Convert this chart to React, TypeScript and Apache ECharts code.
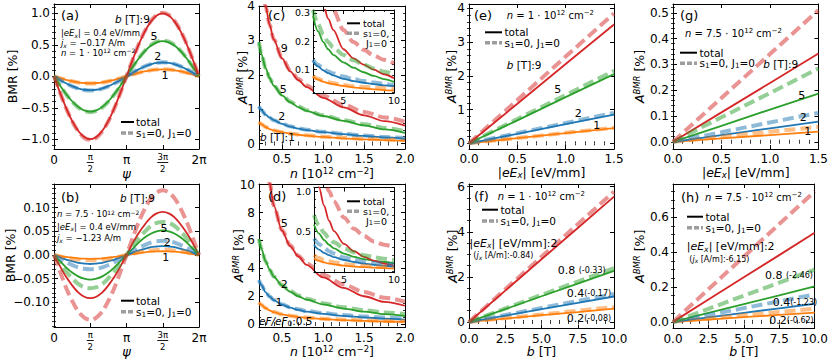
import React, { useEffect, useRef } from "react";
import * as echarts from "echarts";

const FONT = "DejaVu Sans";
const RED = "#d62728";
const GREEN = "#2ca02c";
const BLUE = "#1f77b4";
const ORANGE = "#ff7f0e";

// ---------- (a), (b): BMR vs psi ----------
const PSI = [0, 0.2618, 0.5236, 0.7854, 1.0472, 1.309, 1.5708, 1.8326, 2.0944, 2.3562, 2.618, 2.8798, 3.1416,
  3.4034, 3.6652, 3.927, 4.1888, 4.4506, 4.7124, 4.9742, 5.236, 5.4978, 5.7596, 6.0214, 6.2832];
const A_B9_TOT = [0, -0.259, -0.5, -0.707, -0.866, -0.966, -1.0, -0.966, -0.866, -0.707, -0.5, -0.259, 0,
  0.259, 0.5, 0.707, 0.866, 0.966, 1.0, 0.966, 0.866, 0.707, 0.5, 0.259, 0];
const A_B9_S0 = [0, -0.261, -0.505, -0.714, -0.875, -0.976, -1.01, -0.976, -0.875, -0.714, -0.505, -0.261, 0,
  0.261, 0.505, 0.714, 0.875, 0.976, 1.01, 0.976, 0.875, 0.714, 0.505, 0.261, 0];
const A_B5_TOT = [0, -0.145, -0.28, -0.396, -0.485, -0.541, -0.56, -0.541, -0.485, -0.396, -0.28, -0.145, 0,
  0.145, 0.28, 0.396, 0.485, 0.541, 0.56, 0.541, 0.485, 0.396, 0.28, 0.145, 0];
const A_B5_S0 = [0, -0.148, -0.285, -0.403, -0.494, -0.551, -0.57, -0.551, -0.494, -0.403, -0.285, -0.148, 0,
  0.148, 0.285, 0.403, 0.494, 0.551, 0.57, 0.551, 0.494, 0.403, 0.285, 0.148, 0];
const A_B2_TOT = [0, -0.057, -0.11, -0.156, -0.19, -0.213, -0.22, -0.213, -0.19, -0.156, -0.11, -0.057, 0,
  0.057, 0.11, 0.156, 0.19, 0.213, 0.22, 0.213, 0.19, 0.156, 0.11, 0.057, 0];
const A_B2_S0 = [0, -0.058, -0.113, -0.159, -0.195, -0.217, -0.225, -0.217, -0.195, -0.159, -0.113, -0.058, 0,
  0.058, 0.113, 0.159, 0.195, 0.217, 0.225, 0.217, 0.195, 0.159, 0.113, 0.058, 0];
const A_B1_TOT = [0, -0.028, -0.055, -0.078, -0.095, -0.106, -0.11, -0.106, -0.095, -0.078, -0.055, -0.028, 0,
  0.028, 0.055, 0.078, 0.095, 0.106, 0.11, 0.106, 0.095, 0.078, 0.055, 0.028, 0];
const A_B1_S0 = [0, -0.029, -0.056, -0.079, -0.097, -0.108, -0.112, -0.108, -0.097, -0.079, -0.056, -0.029, 0,
  0.029, 0.056, 0.079, 0.097, 0.108, 0.112, 0.108, 0.097, 0.079, 0.056, 0.029, 0];

const B_B9_TOT = [0, -0.024, -0.046, -0.064, -0.079, -0.088, -0.091, -0.088, -0.079, -0.064, -0.046, -0.024, 0,
  0.024, 0.046, 0.064, 0.079, 0.088, 0.091, 0.088, 0.079, 0.064, 0.046, 0.024, 0];
const B_B9_S0 = [0, -0.035, -0.069, -0.097, -0.119, -0.132, -0.137, -0.132, -0.119, -0.097, -0.069, -0.035, 0,
  0.035, 0.069, 0.097, 0.119, 0.132, 0.137, 0.132, 0.119, 0.097, 0.069, 0.035, 0];
const B_B5_TOT = [0, -0.013, -0.026, -0.037, -0.045, -0.05, -0.052, -0.05, -0.045, -0.037, -0.026, -0.013, 0,
  0.013, 0.026, 0.037, 0.045, 0.05, 0.052, 0.05, 0.045, 0.037, 0.026, 0.013, 0];
const B_B5_S0 = [0, -0.018, -0.035, -0.049, -0.061, -0.068, -0.07, -0.068, -0.061, -0.049, -0.035, -0.018, 0,
  0.018, 0.035, 0.049, 0.061, 0.068, 0.07, 0.068, 0.061, 0.049, 0.035, 0.018, 0];
const B_B2_TOT = [0, -0.005, -0.0095, -0.013, -0.0165, -0.018, -0.019, -0.018, -0.0165, -0.013, -0.0095, -0.005, 0,
  0.005, 0.0095, 0.013, 0.0165, 0.018, 0.019, 0.018, 0.0165, 0.013, 0.0095, 0.005, 0];
const B_B2_S0 = [0, -0.008, -0.015, -0.021, -0.026, -0.029, -0.03, -0.029, -0.026, -0.021, -0.015, -0.008, 0,
  0.008, 0.015, 0.021, 0.026, 0.029, 0.03, 0.029, 0.026, 0.021, 0.015, 0.008, 0];
const B_B1_TOT = [0, -0.002, -0.004, -0.0057, -0.007, -0.0077, -0.008, -0.0077, -0.007, -0.0057, -0.004, -0.002, 0,
  0.002, 0.004, 0.0057, 0.007, 0.0077, 0.008, 0.0077, 0.007, 0.0057, 0.004, 0.002, 0];
const B_B1_S0 = [0, -0.0028, -0.0055, -0.0078, -0.0095, -0.0106, -0.011, -0.0106, -0.0095, -0.0078, -0.0055, -0.0028, 0,
  0.0028, 0.0055, 0.0078, 0.0095, 0.0106, 0.011, 0.0106, 0.0095, 0.0078, 0.0055, 0.0028, 0];

// ---------- (c), (d): A_BMR vs n ----------
const N_MAIN = [0.22, 0.25, 0.3, 0.35, 0.4, 0.5, 0.6, 0.7, 0.8, 1.0, 1.25, 1.5, 1.75, 2.0];
const C_B9_TOT = [5.5, 4.85, 4.0, 3.45, 3.02, 2.48, 2.1, 1.84, 1.64, 1.33, 1.05, 0.82, 0.65, 0.52];
const C_B9_S0 = [5.5, 4.85, 4.0, 3.45, 3.03, 2.5, 2.13, 1.88, 1.69, 1.39, 1.13, 0.92, 0.76, 0.63];
const C_B5_TOT = [2.95, 2.6, 2.2, 1.9, 1.68, 1.4, 1.2, 1.06, 0.95, 0.8, 0.66, 0.53, 0.41, 0.31];
const C_B5_S0 = [2.95, 2.6, 2.2, 1.9, 1.69, 1.42, 1.22, 1.08, 0.97, 0.82, 0.68, 0.56, 0.45, 0.36];
const C_B2_TOT = [1.08, 0.97, 0.84, 0.75, 0.68, 0.57, 0.49, 0.43, 0.39, 0.33, 0.27, 0.22, 0.18, 0.14];
const C_B2_S0 = [1.08, 0.97, 0.84, 0.75, 0.68, 0.58, 0.5, 0.44, 0.4, 0.34, 0.28, 0.23, 0.19, 0.16];
const C_B1_TOT = [0.62, 0.56, 0.48, 0.42, 0.38, 0.33, 0.29, 0.25, 0.23, 0.19, 0.15, 0.12, 0.1, 0.08];
const C_B1_S0 = [0.62, 0.56, 0.48, 0.42, 0.38, 0.33, 0.29, 0.26, 0.24, 0.2, 0.17, 0.14, 0.12, 0.1];

const N_INSET = [2, 2.5, 3, 3.5, 4, 5, 6, 7, 8, 9, 10];
const CI_B9_TOT = [0.52, 0.41, 0.33, 0.28, 0.24, 0.172, 0.14, 0.118, 0.1, 0.084, 0.07];
const CI_B9_S0 = [0.63, 0.5, 0.42, 0.355, 0.31, 0.24, 0.197, 0.17, 0.15, 0.135, 0.122];
const CI_B5_TOT = [0.29, 0.235, 0.198, 0.172, 0.152, 0.126, 0.107, 0.091, 0.078, 0.067, 0.057];
const CI_B5_S0 = [0.31, 0.26, 0.225, 0.197, 0.178, 0.152, 0.133, 0.118, 0.104, 0.093, 0.084];
const CI_B2_TOT = [0.13, 0.112, 0.098, 0.088, 0.08, 0.068, 0.06, 0.054, 0.049, 0.045, 0.042];
const CI_B2_S0 = [0.135, 0.117, 0.104, 0.094, 0.087, 0.076, 0.067, 0.06, 0.055, 0.05, 0.046];
const CI_B1_TOT = [0.075, 0.065, 0.058, 0.053, 0.049, 0.043, 0.038, 0.034, 0.031, 0.028, 0.026];
const CI_B1_S0 = [0.078, 0.068, 0.061, 0.056, 0.052, 0.046, 0.042, 0.039, 0.037, 0.035, 0.034];

const D_E5_TOT = [16, 14.2, 11.8, 10.1, 8.5, 6.7, 5.6, 4.85, 4.25, 3.35, 2.6, 2.0, 1.6, 1.32];
const D_E5_S0 = [16, 14.2, 11.8, 10.1, 8.5, 6.75, 5.65, 4.9, 4.35, 3.55, 2.85, 2.3, 1.9, 1.62];
const D_E2_TOT = [6.1, 5.4, 4.5, 3.9, 3.4, 2.78, 2.33, 2.0, 1.76, 1.42, 1.12, 0.9, 0.72, 0.58];
const D_E2_S0 = [6.1, 5.4, 4.5, 3.9, 3.42, 2.8, 2.37, 2.06, 1.83, 1.5, 1.21, 1.0, 0.84, 0.72];
const D_E1_TOT = [3.15, 2.8, 2.3, 1.97, 1.72, 1.4, 1.18, 1.02, 0.9, 0.74, 0.59, 0.48, 0.4, 0.33];
const D_E1_S0 = [3.15, 2.8, 2.3, 1.98, 1.74, 1.42, 1.21, 1.06, 0.94, 0.79, 0.65, 0.54, 0.47, 0.41];
const D_E05_TOT = [1.55, 1.38, 1.15, 0.98, 0.86, 0.7, 0.59, 0.51, 0.45, 0.37, 0.29, 0.24, 0.19, 0.16];
const D_E05_S0 = [1.55, 1.38, 1.15, 0.99, 0.87, 0.71, 0.61, 0.53, 0.47, 0.39, 0.32, 0.27, 0.23, 0.2];

const DI_E5_TOT = [1.32, 1.05, 0.82, 0.63, 0.5, 0.34, 0.25, 0.18, 0.13, 0.095, 0.07];
const DI_E5_S0 = [1.62, 1.38, 1.17, 1.0, 0.87, 0.67, 0.53, 0.44, 0.37, 0.33, 0.3];
const DI_E2_TOT = [0.58, 0.47, 0.39, 0.33, 0.285, 0.22, 0.18, 0.15, 0.13, 0.115, 0.1];
const DI_E2_S0 = [0.7, 0.57, 0.48, 0.41, 0.36, 0.285, 0.235, 0.2, 0.175, 0.155, 0.14];
const DI_E1_TOT = [0.33, 0.27, 0.23, 0.2, 0.175, 0.14, 0.115, 0.095, 0.08, 0.068, 0.058];
const DI_E1_S0 = [0.41, 0.34, 0.29, 0.25, 0.22, 0.172, 0.14, 0.118, 0.102, 0.09, 0.082];
const DI_E05_TOT = [0.16, 0.13, 0.11, 0.095, 0.085, 0.07, 0.058, 0.05, 0.044, 0.039, 0.035];
const DI_E05_S0 = [0.2, 0.165, 0.14, 0.123, 0.108, 0.089, 0.076, 0.067, 0.06, 0.054, 0.048];

// ---------- (e), (g): A_BMR vs |eEx| ----------
const EEX = [0, 0.5, 1.0, 1.5];
const E_B9_TOT = [0, 1.17, 2.35, 3.52];
const E_B9_S0 = [0, 1.28, 2.57, 3.85];
const E_B5_TOT = [0, 0.68, 1.37, 2.05];
const E_B5_S0 = [0, 0.72, 1.43, 2.15];
const E_B2_TOT = [0, 0.28, 0.57, 0.85];
const E_B2_S0 = [0, 0.3, 0.6, 0.9];
const E_B1_TOT = [0, 0.15, 0.3, 0.45];
const E_B1_S0 = [0, 0.155, 0.31, 0.46];

const G_B9_TOT = [0, 0.114, 0.228, 0.342];
const G_B9_S0 = [0, 0.17, 0.34, 0.51];
const G_B5_TOT = [0, 0.062, 0.125, 0.187];
const G_B5_S0 = [0, 0.095, 0.189, 0.284];
const G_B2_TOT = [0, 0.026, 0.052, 0.078];
const G_B2_S0 = [0, 0.037, 0.075, 0.112];
const G_B1_TOT = [0, 0.013, 0.026, 0.039];
const G_B1_S0 = [0, 0.019, 0.039, 0.058];

// ---------- (f), (h): A_BMR vs b ----------
const BFIELD = [0, 2.5, 5, 7.5, 10];
const F_E2_TOT = [0, 1.39, 2.78, 4.17, 5.56];
const F_E2_S0 = [0, 1.45, 2.89, 4.34, 5.78];
const F_E08_TOT = [0, 0.57, 1.14, 1.7, 2.27];
const F_E08_S0 = [0, 0.6, 1.2, 1.79, 2.39];
const F_E04_TOT = [0, 0.28, 0.57, 0.85, 1.13];
const F_E04_S0 = [0, 0.31, 0.62, 0.93, 1.24];
const F_E02_TOT = [0, 0.15, 0.3, 0.44, 0.59];
const F_E02_S0 = [0, 0.17, 0.33, 0.5, 0.66];

const H_E2_TOT = [0, 0.128, 0.256, 0.383, 0.511];
const H_E2_S0 = [0, 0.187, 0.374, 0.561, 0.748];
const H_E08_TOT = [0, 0.051, 0.102, 0.152, 0.203];
const H_E08_S0 = [0, 0.075, 0.15, 0.225, 0.3];
const H_E04_TOT = [0, 0.026, 0.052, 0.078, 0.104];
const H_E04_S0 = [0, 0.039, 0.079, 0.118, 0.157];
const H_E02_TOT = [0, 0.013, 0.027, 0.04, 0.053];
const H_E02_S0 = [0, 0.019, 0.038, 0.057, 0.076];

// ---------- ticks ----------
const PSI_TICKS = [0, 1.5708, 3.1416, 4.7124, 6.2832];
const A_YTICKS = [-1, -0.5, 0, 0.5, 1];
const B_YTICKS = [-0.1, -0.05, 0, 0.05, 0.1];
const N_TICKS = [0.5, 1.0, 1.5, 2.0];
const C_YTICKS = [0, 1, 2, 3, 4];
const D_YTICKS = [0, 2, 4, 6, 8, 10];
const EEX_TICKS = [0, 0.5, 1.0, 1.5];
const E_YTICKS = [0, 1, 2, 3, 4];
const B_TICKS = [0, 2.5, 5, 7.5, 10];
const F_YTICKS = [0, 2, 4, 6];
const G_YTICKS = [0, 0.1, 0.2, 0.3, 0.4, 0.5];
const H_YTICKS = [0, 0.2, 0.4, 0.6];
const IN_XTICKS = [5, 10];
const CI_YTICKS = [0.1, 0.2, 0.3];
const DI_YTICKS = [0.5, 1.0];

function steps(a: number, b: number, s: number): number[] {
  const out: number[] = [];
  const n = Math.round((b - a) / s);
  for (let i = 0; i <= n; i++) out.push(+(a + i * s).toFixed(4));
  return out;
}

const fmt = (d: number) => (v: number) => (v < -1e-9 ? "\u2212" : "") + Math.abs(v).toFixed(d);

const psiFmt = (v: number) => {
  const k = Math.round(v / (Math.PI / 2));
  if (k === 0) return "{m|0}";
  if (k === 1) return "{n|\u03c0}\n{bar| }\n{n|2}";
  if (k === 2) return "{m|\u03c0}";
  if (k === 3) return "{n|3\u03c0}\n{bar2| }\n{n|2}";
  return "{m|2\u03c0}";
};
const PSI_RICH = {
  m: { fontSize: 12, lineHeight: 12, padding: [4.5, 0, 0, 0], fontFamily: FONT, color: "#000" },
  n: { fontSize: 8.5, lineHeight: 9, fontFamily: FONT, color: "#000" },
  bar: { fontSize: 1, width: 7, height: 0.9, lineHeight: 3, backgroundColor: "#000", color: "#000" },
  bar2: { fontSize: 1, width: 11, height: 0.9, lineHeight: 3, backgroundColor: "#000", color: "#000" },
};

const NAME_RICH = {
  i: { fontStyle: "italic", fontSize: 12.5, lineHeight: 14, fontFamily: FONT, color: "#000" },
  p: { fontStyle: "italic", fontSize: 13, lineHeight: 10, fontFamily: FONT, color: "#000" },
  isup: { fontStyle: "italic", fontSize: 8.5, lineHeight: 8, verticalAlign: "top", fontFamily: FONT, color: "#000" },
  sup: { fontSize: 8.5, lineHeight: 8, verticalAlign: "top", fontFamily: FONT, color: "#000" },
  isub: { fontStyle: "italic", fontSize: 8.5, lineHeight: 8, verticalAlign: "bottom", fontFamily: FONT, color: "#000" },
};

type Ax = {
  min: number; max: number; ticks: number[]; minor: number[];
  fmt: any; fs: number; rich?: any; margin?: number;
  name?: string; gap?: number;
};

function buildAxes(gi: number, ax: Ax, dim: "x" | "y", z: number) {
  const base: any = { type: "value", gridIndex: gi, min: ax.min, max: ax.max, splitLine: { show: false }, z, silent: true };
  const line = { show: true, onZero: false, lineStyle: { color: "#000", width: 1 } };
  const major = { show: true, inside: true, length: 4, customValues: ax.ticks, lineStyle: { color: "#000", width: 1 } };
  const minorT = ax.minor.length
    ? { show: true, inside: true, length: 2, customValues: ax.minor, lineStyle: { color: "#000", width: 0.8 } }
    : { show: false };
  const p1 = dim === "x" ? "bottom" : "left";
  const p2 = dim === "x" ? "top" : "right";
  return [
    {
      ...base, position: p1, axisLine: line, axisTick: major,
      axisLabel: {
        show: true, customValues: ax.ticks, formatter: ax.fmt, fontSize: ax.fs, lineHeight: ax.fs, fontFamily: FONT,
        color: "#000", margin: ax.margin ?? 4, rich: ax.rich,
      },
      name: ax.name, nameLocation: "middle", nameGap: ax.gap, nameMoveOverlap: false,
      nameTextStyle: { fontSize: 12.5, lineHeight: 14, fontFamily: FONT, color: "#000", verticalAlign: "middle", align: "center", rich: NAME_RICH },
    },
    { ...base, position: p2, axisLine: line, axisTick: major, axisLabel: { show: false } },
    { ...base, position: p1, axisLine: { show: false }, axisTick: minorT, axisLabel: { show: false } },
    { ...base, position: p2, axisLine: { show: false }, axisTick: minorT, axisLabel: { show: false } },
  ];
}

const GRIDS = [
  { left: 54, top: 4, width: 145, height: 145 },
  { left: 54, top: 184, width: 145, height: 146 },
  { left: 259, top: 4, width: 146, height: 145 },
  { left: 259, top: 184, width: 146, height: 146 },
  { left: 469, top: 4, width: 145, height: 145 },
  { left: 469, top: 184, width: 145, height: 146 },
  { left: 673, top: 4, width: 146, height: 145 },
  { left: 673, top: 184, width: 146, height: 146 },
  { left: 313, top: 10, width: 81, height: 83 },
  { left: 314, top: 187.5, width: 80, height: 84.5 },
];

const Y_BMR = "BMR [%]";
const Y_A = "{i|A}{isup|BMR} [%]";
const X_PSI = "{p|\u03c8}";
const X_N = "{i|n} [10{sup|12} cm{sup|\u22122}]";
const X_E = "|{i|eE}{isub|x}| [eV/mm]";
const X_B = "{i|b} [T]";

const PANEL_AXES: { x: Ax; y: Ax }[] = [
  {
    x: { min: 0, max: 6.2832, ticks: PSI_TICKS, minor: [], fmt: psiFmt, fs: 12, rich: PSI_RICH, margin: 3, name: X_PSI, gap: 24.5 },
    y: { min: -1.155, max: 1.15, ticks: A_YTICKS, minor: steps(-1.1, 1.1, 0.1), fmt: fmt(1), fs: 12, name: Y_BMR, gap: 42 },
  },
  {
    x: { min: 0, max: 6.2832, ticks: PSI_TICKS, minor: [], fmt: psiFmt, fs: 12, rich: PSI_RICH, margin: 3, name: X_PSI, gap: 24.5 },
    y: { min: -0.152, max: 0.15, ticks: B_YTICKS, minor: steps(-0.15, 0.15, 0.01), fmt: fmt(2), fs: 12, name: Y_BMR, gap: 44 },
  },
  {
    x: { min: 0.22, max: 2.0, ticks: N_TICKS, minor: steps(0.3, 2.0, 0.1), fmt: fmt(1), fs: 12, name: X_N, gap: 24 },
    y: { min: -0.16, max: 4.0, ticks: C_YTICKS, minor: steps(0, 4, 0.2), fmt: fmt(0), fs: 12, name: Y_A, gap: 17 },
  },
  {
    x: { min: 0.22, max: 2.0, ticks: N_TICKS, minor: steps(0.3, 2.0, 0.1), fmt: fmt(1), fs: 12, name: X_N, gap: 23.5 },
    y: { min: -0.24, max: 10.05, ticks: D_YTICKS, minor: steps(0, 10, 0.5), fmt: fmt(0), fs: 12, name: Y_A, gap: 21 },
  },
  {
    x: { min: 0, max: 1.5, ticks: EEX_TICKS, minor: steps(0, 1.5, 0.1), fmt: fmt(1), fs: 12, name: X_E, gap: 23 },
    y: { min: -0.17, max: 4.13, ticks: E_YTICKS, minor: steps(0, 4, 0.2), fmt: fmt(0), fs: 12, name: Y_A, gap: 18 },
  },
  {
    x: { min: 0, max: 10, ticks: B_TICKS, minor: steps(0, 10, 0.625), fmt: fmt(1), fs: 12, name: X_B, gap: 22.5 },
    y: { min: -0.29, max: 6.12, ticks: F_YTICKS, minor: steps(0, 6, 0.5), fmt: fmt(0), fs: 12, name: Y_A, gap: 17 },
  },
  {
    x: { min: 0, max: 1.5, ticks: EEX_TICKS, minor: steps(0, 1.5, 0.1), fmt: fmt(1), fs: 12, name: X_E, gap: 23 },
    y: { min: -0.028, max: 0.534, ticks: G_YTICKS, minor: steps(0, 0.52, 0.02), fmt: fmt(1), fs: 12, name: Y_A, gap: 34 },
  },
  {
    x: { min: 0, max: 10, ticks: B_TICKS, minor: steps(0, 10, 0.625), fmt: fmt(1), fs: 12, name: X_B, gap: 22.5 },
    y: { min: -0.038, max: 0.791, ticks: H_YTICKS, minor: steps(0, 0.78, 0.05), fmt: fmt(1), fs: 12, name: Y_A, gap: 34 },
  },
  {
    x: { min: 2, max: 10, ticks: IN_XTICKS, minor: steps(2, 10, 1), fmt: fmt(0), fs: 9.5, margin: 3 },
    y: { min: 0.018, max: 0.31, ticks: CI_YTICKS, minor: steps(0.02, 0.3, 0.02), fmt: fmt(1), fs: 9.5, margin: 3 },
  },
  {
    x: { min: 2, max: 10, ticks: IN_XTICKS, minor: steps(2, 10, 1), fmt: fmt(0), fs: 9.5, margin: 3 },
    y: { min: -0.01, max: 1.045, ticks: DI_YTICKS, minor: steps(0, 1.0, 0.1), fmt: fmt(1), fs: 9.5, margin: 3 },
  },
];

function pair(gi: number, xs: number[], tot: number[], s0: number[], color: string, z: number, smooth: number, mono = true) {
  const mk = (ys: number[], dashed: boolean) => ({
    type: "line",
    xAxisIndex: gi * 4,
    yAxisIndex: gi * 4,
    data: xs.map((x, i) => [x, ys[i]]),
    symbol: "none",
    showSymbol: false,
    smooth,
    smoothMonotone: mono ? "x" : undefined,
    clip: true,
    silent: true,
    z: dashed ? z + 1 : z,
    lineStyle: dashed
      ? { color, width: 4, type: [11, 5], opacity: 0.5, cap: "butt" }
      : { color, width: 1.8 },
  });
  return [mk(tot, false), mk(s0, true)];
}

const TXT_RICH = (fs: number) => ({
  i: { fontStyle: "italic", fontSize: fs, lineHeight: fs * 1.15, fontFamily: FONT, fill: "#000" },
  sup: { fontSize: fs * 0.7, lineHeight: fs * 0.5, verticalAlign: "top", fontFamily: FONT, fill: "#000" },
  sub: { fontSize: fs * 0.7, lineHeight: fs * 0.5, verticalAlign: "bottom", fontFamily: FONT, fill: "#000" },
  isub: { fontStyle: "italic", fontSize: fs * 0.7, lineHeight: fs * 0.5, verticalAlign: "bottom", fontFamily: FONT, fill: "#000" },
  s: { fontSize: 8, lineHeight: fs * 1.15, fontFamily: FONT, fill: "#000" },
  si: { fontStyle: "italic", fontSize: 8, lineHeight: fs * 1.15, fontFamily: FONT, fill: "#000" },
  ssub: { fontStyle: "italic", fontSize: 6, lineHeight: 4, verticalAlign: "bottom", fontFamily: FONT, fill: "#000" },
});

function T(x: number, y: number, text: string, fs: number, align = "left") {
  return {
    type: "text", x, y, z: 200, silent: true,
    style: { text, fontSize: fs, fontFamily: FONT, fill: "#000", align, verticalAlign: "middle", lineHeight: fs * 1.15, rich: TXT_RICH(fs) },
  };
}
function L(x1: number, x2: number, y: number, dashed: boolean) {
  return {
    type: "line", z: 200, silent: true,
    shape: { x1, y1: y, x2, y2: y },
    style: dashed
      ? { stroke: "#8c8c8c", lineWidth: 3.5, lineDash: [5, 2], opacity: 0.85 }
      : { stroke: "#000", lineWidth: 2 },
  };
}

const LEG_S = "s{sub|1}=0, J{sub|1}=0";

const GRAPHICS = [
  // (a)
  T(61, 15, "(a)", 13),
  T(115, 19, "{i|b} [T]:9", 10.5),
  T(61, 33.3, "|{i|eE}{isub|x}| = 0.4 eV/mm", 8.5),
  T(61, 43.3, "{i|j}{isub|x} = \u22120.17 A/m", 8.5),
  T(61, 52.5, "{i|n} = 1 \u00b7 10{sup|12} cm{sup|\u22122}", 8.5),
  T(154, 36.7, "5", 11, "center"),
  T(157.7, 56.7, "2", 11, "center"),
  T(165, 75, "1", 11, "center"),
  L(121, 134, 122, false), T(136, 122, "total", 10.5),
  L(121, 134, 133, true), T(136, 133, LEG_S, 10.5),
  // (b)
  T(61, 197.7, "(b)", 13),
  T(120, 198, "{i|b} [T]:9", 10.5),
  T(57, 214.3, "{i|n} = 7.5 \u00b7 10{sup|12} cm{sup|\u22122}", 8.5),
  T(57, 226.7, "|{i|eE}{isub|x}| = 0.4 eV/mm", 8.5),
  T(57, 238.3, "{i|j}{isub|x} = \u22121.23 A/m", 8.5),
  T(164, 228.3, "5", 11, "center"),
  T(167.3, 242.7, "2", 11, "center"),
  T(165.7, 257.3, "1", 11, "center"),
  L(121, 134, 300.7, false), T(136, 300.7, "total", 10.5),
  L(121, 134, 311.8, true), T(136, 311.8, LEG_S, 10.5),
  // (c)
  T(268, 15.5, "(c)", 13),
  T(284.3, 48.3, "9", 11, "center"),
  T(283.3, 89.3, "5", 11, "center"),
  T(281.7, 116.7, "2", 11, "center"),
  T(260, 136.7, "{i|b} [T]:1", 10.5),
  L(347, 360, 23.3, false), T(363, 23.3, "total", 9.5),
  L(347, 360, 33.3, true), T(363, 33.3, "s{sub|1}=0,", 9.5),
  T(366, 43.3, "J{sub|1}=0", 9.5),
  // (d)
  T(268, 196, "(d)", 13),
  T(284.3, 223, "5", 11, "center"),
  T(284.3, 284, "2", 11, "center"),
  T(279, 302, "1", 11, "center"),
  T(259, 321, "{i|eF/eF}{sub|0}:0.5", 10.5),
  L(347, 360, 201.3, false), T(363, 201.3, "total", 9.5),
  L(347, 360, 211.3, true), T(363, 211.3, "s{sub|1}=0,", 9.5),
  T(366, 221.3, "J{sub|1}=0", 9.5),
  // (e)
  T(474, 15, "(e)", 13),
  T(506.7, 15, "{i|n} = 1 \u00b7 10{sup|12} cm{sup|\u22122}", 10),
  L(485, 502, 32.3, false), T(504.5, 32.3, "total", 10.5),
  L(485, 502, 42.7, true), T(504.5, 42.7, LEG_S, 10.5),
  T(506.7, 65, "{i|b} [T]:9", 10.5),
  T(557.7, 89, "5", 11, "center"),
  T(578.3, 113.3, "2", 11, "center"),
  T(596.7, 125.7, "1", 11, "center"),
  // (f)
  T(474, 196.7, "(f)", 13),
  T(497.7, 196.7, "{i|n} = 1 \u00b7 10{sup|12} cm{sup|\u22122}", 10),
  L(482, 498, 209.7, false), T(500.5, 209.7, "total", 10.5),
  L(482, 498, 221, true), T(500.5, 221, LEG_S, 10.5),
  T(469.5, 243.3, "|{i|eE}{isub|x}| [eV/mm]:2", 11),
  T(473.3, 255.5, "({si|j}{ssub|x} [A/m]:-0.84)", 8),
  T(557.7, 270, "0.8 {s|(-0.33)}", 11),
  T(566.7, 293.3, "0.4{s|(-0.17)}", 11),
  T(566.7, 318.3, "0.2{s|(-0.08)}", 11),
  // (g)
  T(680, 15, "(g)", 13),
  T(685, 33.3, "{i|n} = 7.5 \u00b7 10{sup|12} cm{sup|\u22122}", 10),
  L(680, 697, 52.7, false), T(699.5, 52.7, "total", 10.5),
  L(680, 697, 63.3, true), T(699.5, 63.3, LEG_S, 10.5),
  T(763.3, 64, "{i|b} [T]:9", 10.5),
  T(801.7, 95, "5", 11, "center"),
  T(803.3, 117.3, "2", 11, "center"),
  T(807.7, 131, "1", 11, "center"),
  // (h)
  T(681, 197.7, "(h)", 13),
  T(705, 197.7, "{i|n} = 7.5 \u00b7 10{sup|12} cm{sup|\u22122}", 10),
  L(687, 703, 216.7, false), T(705.5, 216.7, "total", 10.5),
  L(687, 703, 227.7, true), T(705.5, 227.7, LEG_S, 10.5),
  T(686.7, 246.7, "|{i|eE}{isub|x}| [eV/mm]:2", 11),
  T(689.3, 259, "({si|j}{ssub|x} [A/m]:-6.15)", 8),
  T(765, 275, "0.8 {s|(-2.46)}", 11),
  T(772.7, 302.3, "0.4{s|(-1.23)}", 11),
  T(769.3, 320, "0.2{s|(-0.62)}", 11),
];

export default function App() {
  const ref = useRef<HTMLDivElement>(null);
  useEffect(() => {
    if (!ref.current) return;
    const chart = echarts.init(ref.current, null, { renderer: "svg" });
    const xAxis: any[] = [];
    const yAxis: any[] = [];
    PANEL_AXES.forEach((p, gi) => {
      const z = gi >= 8 ? 11 : 1;
      xAxis.push(...buildAxes(gi, p.x, "x", z));
      yAxis.push(...buildAxes(gi, p.y, "y", z));
    });
    const grid = GRIDS.map((g, gi) =>
      gi >= 8
        ? { ...g, show: true, backgroundColor: "#fff", borderWidth: 0, z: 10 }
        : { ...g, show: false }
    );
    const series: any[] = [
      ...pair(0, PSI, A_B1_TOT, A_B1_S0, ORANGE, 2, 0.3, false),
      ...pair(0, PSI, A_B2_TOT, A_B2_S0, BLUE, 2, 0.3, false),
      ...pair(0, PSI, A_B5_TOT, A_B5_S0, GREEN, 2, 0.3, false),
      ...pair(0, PSI, A_B9_TOT, A_B9_S0, RED, 2, 0.3, false),
      ...pair(1, PSI, B_B1_TOT, B_B1_S0, ORANGE, 2, 0.3, false),
      ...pair(1, PSI, B_B2_TOT, B_B2_S0, BLUE, 2, 0.3, false),
      ...pair(1, PSI, B_B5_TOT, B_B5_S0, GREEN, 2, 0.3, false),
      ...pair(1, PSI, B_B9_TOT, B_B9_S0, RED, 2, 0.3, false),
      ...pair(2, N_MAIN, C_B1_TOT, C_B1_S0, ORANGE, 2, 0.3),
      ...pair(2, N_MAIN, C_B2_TOT, C_B2_S0, BLUE, 2, 0.3),
      ...pair(2, N_MAIN, C_B5_TOT, C_B5_S0, GREEN, 2, 0.3),
      ...pair(2, N_MAIN, C_B9_TOT, C_B9_S0, RED, 2, 0.3),
      ...pair(3, N_MAIN, D_E05_TOT, D_E05_S0, ORANGE, 2, 0.3),
      ...pair(3, N_MAIN, D_E1_TOT, D_E1_S0, BLUE, 2, 0.3),
      ...pair(3, N_MAIN, D_E2_TOT, D_E2_S0, GREEN, 2, 0.3),
      ...pair(3, N_MAIN, D_E5_TOT, D_E5_S0, RED, 2, 0.3),
      ...pair(4, EEX, E_B1_TOT, E_B1_S0, ORANGE, 2, 0),
      ...pair(4, EEX, E_B2_TOT, E_B2_S0, BLUE, 2, 0),
      ...pair(4, EEX, E_B5_TOT, E_B5_S0, GREEN, 2, 0),
      ...pair(4, EEX, E_B9_TOT, E_B9_S0, RED, 2, 0),
      ...pair(5, BFIELD, F_E02_TOT, F_E02_S0, ORANGE, 2, 0),
      ...pair(5, BFIELD, F_E04_TOT, F_E04_S0, BLUE, 2, 0),
      ...pair(5, BFIELD, F_E08_TOT, F_E08_S0, GREEN, 2, 0),
      ...pair(5, BFIELD, F_E2_TOT, F_E2_S0, RED, 2, 0),
      ...pair(6, EEX, G_B1_TOT, G_B1_S0, ORANGE, 2, 0),
      ...pair(6, EEX, G_B2_TOT, G_B2_S0, BLUE, 2, 0),
      ...pair(6, EEX, G_B5_TOT, G_B5_S0, GREEN, 2, 0),
      ...pair(6, EEX, G_B9_TOT, G_B9_S0, RED, 2, 0),
      ...pair(7, BFIELD, H_E02_TOT, H_E02_S0, ORANGE, 2, 0),
      ...pair(7, BFIELD, H_E04_TOT, H_E04_S0, BLUE, 2, 0),
      ...pair(7, BFIELD, H_E08_TOT, H_E08_S0, GREEN, 2, 0),
      ...pair(7, BFIELD, H_E2_TOT, H_E2_S0, RED, 2, 0),
      ...pair(8, N_INSET, CI_B1_TOT, CI_B1_S0, ORANGE, 12, 0.3),
      ...pair(8, N_INSET, CI_B2_TOT, CI_B2_S0, BLUE, 12, 0.3),
      ...pair(8, N_INSET, CI_B5_TOT, CI_B5_S0, GREEN, 12, 0.3),
      ...pair(8, N_INSET, CI_B9_TOT, CI_B9_S0, RED, 12, 0.3),
      ...pair(9, N_INSET, DI_E05_TOT, DI_E05_S0, ORANGE, 12, 0.3),
      ...pair(9, N_INSET, DI_E1_TOT, DI_E1_S0, BLUE, 12, 0.3),
      ...pair(9, N_INSET, DI_E2_TOT, DI_E2_S0, GREEN, 12, 0.3),
      ...pair(9, N_INSET, DI_E5_TOT, DI_E5_S0, RED, 12, 0.3),
    ];
    chart.setOption({
      animation: false,
      backgroundColor: "#fff",
      textStyle: { fontFamily: FONT },
      grid,
      xAxis,
      yAxis,
      series,
      graphic: { elements: GRAPHICS },
    });
    return () => chart.dispose();
  }, []);
  return (
    <div
      ref={ref}
      style={{ position: "absolute", left: 0, top: 0, width: 831, height: 359 }}
    />
  );
}
